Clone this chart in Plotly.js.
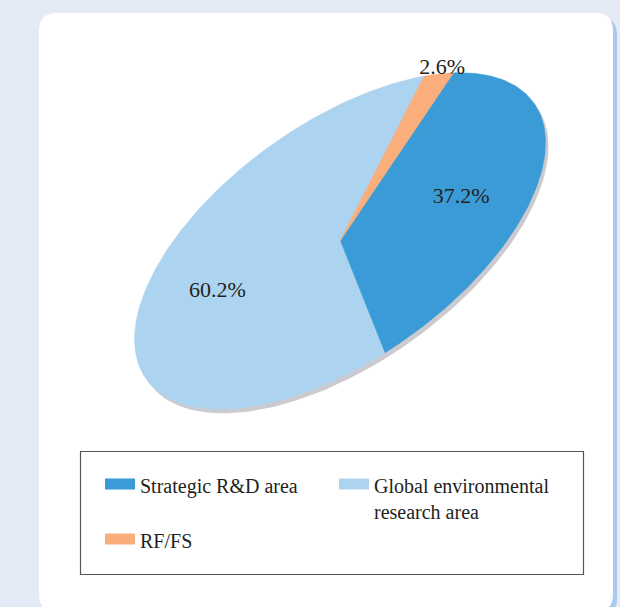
<!DOCTYPE html>
<html>
<head>
<meta charset="utf-8">
<script src="https://cdn.plot.ly/plotly-3.0.1.min.js"></script>
<style>
  html, body { margin: 0; padding: 0; background: #e5ebf6; }
  #chart { width: 620px; height: 607px; }
</style>
</head>
<body>
<div id="chart"></div>
<script>
// ---- data ----
const categories = ['Strategic R&D area', 'Global environmental research area', 'RF/FS'];
const legendLabels = ['Strategic R&D area', 'Global environmental<br>research area', 'RF/FS'];
const shares = [37.2, 60.2, 2.6];

// ---- styles ----
const sliceColors = ['#3a9bd7', '#acd4f0', '#f9ae7b'];
const FONT = 'Liberation Serif, DejaVu Serif, serif';

// Tilted-ellipse geometry (pixel space)
const CX = 340, CY = 241, RA = 238, RB = 118;
const TILT = 35.5 * Math.PI / 180;   // major axis tilt (counter-clockwise)
const START = 37 * Math.PI / 180;    // start angle on the un-tilted pie, clockwise

function toScreen(u, v, dx, dy) {
  const x = u * RA * Math.cos(TILT) - v * RB * Math.sin(TILT);
  const y = u * RA * Math.sin(TILT) + v * RB * Math.cos(TILT);
  return [CX + x + (dx || 0), CY - y + (dy || 0)];
}

const total = shares.reduce((a, b) => a + b, 0);
const traces = [];

// shadow of the whole pie
{
  const xs = [], ys = [];
  for (let i = 0; i <= 240; i++) {
    const t = i / 240 * 2 * Math.PI;
    const p = toScreen(Math.cos(t), Math.sin(t), 3, 4);
    xs.push(p[0]); ys.push(p[1]);
  }
  traces.push({type: 'scatter', mode: 'lines', x: xs, y: ys, fill: 'toself',
    fillcolor: '#cbcbcf', line: {width: 0, color: '#cbcbcf'},
    showlegend: false, hoverinfo: 'skip'});
}

let ang = START;
const labelX = [], labelY = [], labelT = [];
shares.forEach((v, i) => {
  const span = v / total * 2 * Math.PI;
  const a0 = ang, a1 = ang - span;   // clockwise
  const n = Math.max(4, Math.ceil(span / (2 * Math.PI) * 360));
  const xs = [CX], ys = [CY];
  for (let k = 0; k <= n; k++) {
    const t = a0 + (a1 - a0) * k / n;
    const p = toScreen(Math.cos(t), Math.sin(t));
    xs.push(p[0]); ys.push(p[1]);
  }
  xs.push(CX); ys.push(CY);
  traces.push({type: 'scatter', mode: 'lines', x: xs, y: ys, fill: 'toself',
    fillcolor: sliceColors[i], line: {width: 0.5, color: sliceColors[i]},
    name: categories[i], legendgroup: 'g' + i, showlegend: false,
    hovertemplate: categories[i] + ': ' + v.toFixed(1) + '%<extra></extra>'});
  const mid = (a0 + a1) / 2;
  const inside = (v / total) > 0.05;
  const r = inside ? 0.6 : 1.03;
  const lp = toScreen(r * Math.cos(mid), r * Math.sin(mid));
  labelX.push(lp[0]); labelY.push(lp[1]); labelT.push(v.toFixed(1) + '%');
  ang = a1;
});

// percentage labels
traces.push({type: 'scatter', mode: 'text', x: labelX, y: labelY, text: labelT,
  textposition: 'middle center', textfont: {family: FONT, size: 22, color: '#231f20'},
  showlegend: false, hoverinfo: 'skip'});

// legend entries
shares.forEach((v, i) => {
  traces.push({type: 'scatter', mode: 'lines', x: [null], y: [null], fill: 'toself',
    fillcolor: sliceColors[i], line: {width: 10, color: sliceColors[i]},
    name: legendLabels[i], legendgroup: 'g' + i, showlegend: true, hoverinfo: 'skip'});
});

function roundRect(x0, y0, x1, y1, r) {
  return `M${x0 + r},${y0} H${x1 - r} Q${x1},${y0} ${x1},${y0 + r} V${y1 - r} Q${x1},${y1} ${x1 - r},${y1} H${x0 + r} Q${x0},${y1} ${x0},${y1 - r} V${y0 + r} Q${x0},${y0} ${x0 + r},${y0} Z`;
}

const layout = {
  width: 620, height: 607,
  margin: {l: 0, r: 0, t: 0, b: 0},
  paper_bgcolor: '#e5ebf6', plot_bgcolor: 'rgba(0,0,0,0)',
  font: {family: FONT},
  xaxis: {range: [0, 620], visible: false, fixedrange: true},
  yaxis: {range: [607, 0], visible: false, fixedrange: true},
  showlegend: true,
  legend: {x: 100 / 620, xanchor: 'left', y: 1 - 466 / 607, yanchor: 'top',
    orientation: 'h', entrywidth: 189, valign: 'top', traceorder: 'normal',
    bgcolor: 'rgba(0,0,0,0)', borderwidth: 0,
    font: {family: FONT, size: 20, color: '#231f20'}},
  shapes: [
    {type: 'path', xref: 'x', yref: 'y', layer: 'below', path: roundRect(43, 17, 617, 616, 18),
      fillcolor: '#a9c9ee', line: {width: 0}},
    {type: 'path', xref: 'x', yref: 'y', layer: 'below', path: roundRect(39, 13, 613, 612, 18),
      fillcolor: '#ffffff', line: {width: 0}},
    {type: 'rect', xref: 'x', yref: 'y', layer: 'above', x0: 80.5, x1: 583.5, y0: 451.5, y1: 574.5,
      fillcolor: 'rgba(0,0,0,0)', line: {width: 1.2, color: '#555555'}}
  ],
  hovermode: 'closest'
};

Plotly.newPlot('chart', traces, layout, {displayModeBar: false});
</script>
</body>
</html>
